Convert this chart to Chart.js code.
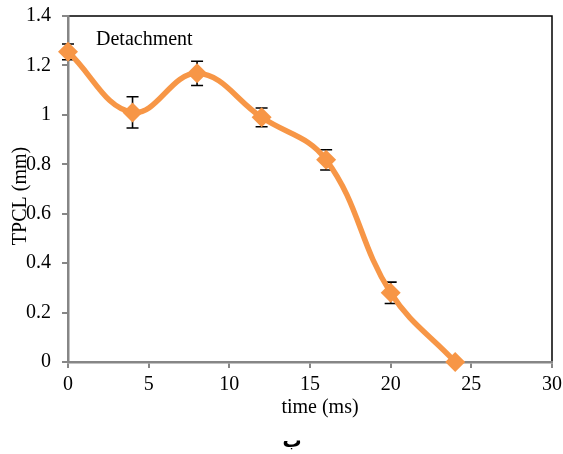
<!DOCTYPE html>
<html>
<head>
<meta charset="utf-8">
<script src="https://cdn.jsdelivr.net/npm/chart.js@4/dist/chart.umd.min.js"></script>
<style>
  html, body { margin: 0; padding: 0; background: #fff; }
  #wrap { width: 563px; height: 454px; }
</style>
</head>
<body>
<div id="wrap"><canvas id="c" width="563" height="454"></canvas></div>
<script>
const times = [0, 4, 8, 12, 16, 20, 24];
const tpcl = [1.255, 1.01, 1.168, 0.99, 0.818, 0.28, 0];
const errs = [0.032, 0.063, 0.049, 0.038, 0.041, 0.043, 0];

const FONT = 'Liberation Serif, Times New Roman, serif';

// error bars through the chart's own scales
const errorBars = {
    id: 'errorBars',
    beforeDatasetsDraw(chart) {
        const ctx = chart.ctx;
        const xs = chart.scales.x, ys = chart.scales.y;
        ctx.save();
        ctx.strokeStyle = '#000';
        ctx.lineWidth = 1.6;
        for (let i = 0; i < times.length; i++) {
            if (!errs[i]) continue;
            const px = xs.getPixelForValue(times[i]);
            const top = ys.getPixelForValue(tpcl[i] + errs[i]);
            const bot = ys.getPixelForValue(tpcl[i] - errs[i]);
            ctx.beginPath();
            ctx.moveTo(px, top); ctx.lineTo(px, bot);
            ctx.moveTo(px - 6, top); ctx.lineTo(px + 6, top);
            ctx.moveTo(px - 6, bot); ctx.lineTo(px + 6, bot);
            ctx.stroke();
        }
        ctx.restore();
    }
};

const extras = {
    id: 'extras',
    beforeDraw(chart) {
        const ctx = chart.ctx;
        const a = chart.chartArea;
        ctx.save();
        ctx.fillStyle = '#fff';
        ctx.fillRect(0, 0, chart.width, chart.height);
        ctx.strokeStyle = '#000';
        ctx.lineWidth = 1.5;
        ctx.beginPath();
        ctx.moveTo(a.left, a.top);
        ctx.lineTo(a.right, a.top);
        ctx.lineTo(a.right, a.bottom);
        ctx.stroke();
        ctx.restore();
    },
    afterDraw(chart) {
        const ctx = chart.ctx;
        ctx.save();
        ctx.fillStyle = '#000';
        ctx.font = '20px ' + FONT;
        ctx.textBaseline = 'middle';
        ctx.textAlign = 'left';
        ctx.fillText('Detachment', 96, 40);
        ctx.textAlign = 'center';
        ctx.fillText('time (ms)', 320, 408);
        ctx.save();
        ctx.translate(21, 196);
        ctx.rotate(-Math.PI / 2);
        ctx.fillText('TPCL (mm)', 0, 0);
        ctx.restore();
        ctx.font = 'bold 19px DejaVu Sans, sans-serif';
        ctx.textBaseline = 'alphabetic';
        ctx.fillText('ب', 292, 447);
        ctx.restore();
    }
};

new Chart(document.getElementById('c'), {
    type: 'scatter',
    data: {
        datasets: [{
            data: times.map((t, i) => ({ x: t, y: tpcl[i] })),
            showLine: true,
            borderColor: '#F79646',
            backgroundColor: '#F79646',
            borderWidth: 5.5,
            tension: 0.4,
            pointStyle: 'rectRot',
            pointRadius: 10,
            pointHoverRadius: 10,
            pointBorderWidth: 0,
            clip: false
        }]
    },
    options: {
        responsive: false,
        animation: false,
        layout: { padding: { left: 0, right: 11, top: 16, bottom: 0 } },
        plugins: {
            legend: { display: false },
            tooltip: { enabled: false }
        },
        scales: {
            x: {
                type: 'linear',
                min: 0, max: 30,
                afterFit(s) { s.height = 92; s.paddingLeft = 0; s.paddingRight = 0; },
                ticks: { stepSize: 5, padding: 5, color: '#000', font: { family: FONT, size: 20 } },
                grid: { drawOnChartArea: false, drawTicks: true, tickLength: 6, color: '#868686', lineWidth: 2 },
                border: { color: '#868686', width: 2.5 }
            },
            y: {
                min: 0, max: 1.4,
                afterFit(s) { s.width = 68; s.paddingTop = 0; s.paddingBottom = 0; },
                ticks: {
                    stepSize: 0.2, padding: 11, color: '#000', font: { family: FONT, size: 20 },
                    callback: v => String(Math.round(v * 10) / 10)
                },
                grid: { drawOnChartArea: false, drawTicks: true, tickLength: 6, color: '#868686', lineWidth: 2 },
                border: { color: '#868686', width: 2.5 }
            }
        }
    },
    plugins: [errorBars, extras]
});
</script>
</body>
</html>
